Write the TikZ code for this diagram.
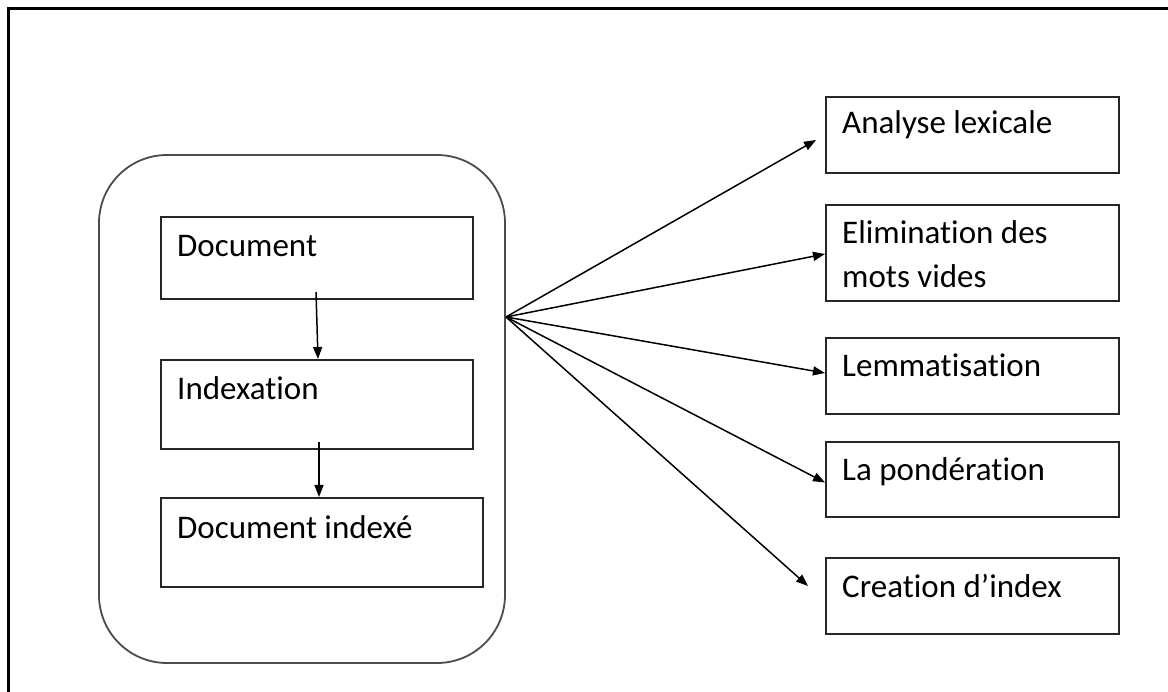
\documentclass[tikz,border=0pt]{standalone}
\usepackage{fontspec}
\setmainfont[Ligatures=NoCommon]{Carlito}
\usetikzlibrary{arrows.meta,calc}
\begin{document}
\begin{tikzpicture}[x=1pt,y=-1pt,
  box/.style={draw=black!85,line width=2pt,anchor=north west,inner sep=0pt},
  lbl/.style={anchor=base west,inner sep=0pt,font=\fontsize{33}{44}\selectfont,align=left},
  conn/.style={line width=1.5pt,-{Triangle[length=12pt,width=9pt]}},
  grpbox/.style={draw=black!70,line width=1.8pt,rounded corners=68pt}]
\useasboundingbox (0,0) rectangle (1168,692);
\fill[white] (0,0) rectangle (1168,692);
% outer frame (right and bottom edges lie outside the picture)
\draw[line width=3pt] (8,692) -- (8,9) -- (1168,9);
% group
\draw[grpbox] (99,155) rectangle (505,663);
\coordinate (fan) at (506,317);
% left boxes
\node[box,minimum width=312pt,minimum height=82pt] (doc) at (160,216) {};
\node[lbl] (tdoc) at (177,257) {Document};
\node[box,minimum width=312pt,minimum height=89pt] (idx) at (160,359) {};
\node[lbl] (tidx) at (177,400) {Indexation};
\node[box,minimum width=322pt,minimum height=89pt] (didx) at (160,497) {};
\node[lbl] (tdidx) at (177,538) {Document indexé};
% right boxes
\node[box,minimum width=293pt,minimum height=76pt] (ana) at (825,96) {};
\node[lbl] (tana) at (842,134) {Analyse lexicale};
\node[box,minimum width=293pt,minimum height=96pt] (eli) at (825,204) {};
\node[lbl] (teli) at (842,288) {Elimination des\\mots vides};
\node[box,minimum width=293pt,minimum height=76pt] (lem) at (825,337) {};
\node[lbl] (tlem) at (842,377) {Lemmatisation};
\node[box,minimum width=293pt,minimum height=75pt] (pon) at (825,441) {};
\node[lbl] (tpon) at (842,481) {La pondération};
\node[box,minimum width=293pt,minimum height=76pt] (cre) at (825,557) {};
\node[lbl] (tcre) at (842,597) {Creation d’index};
% vertical arrows
\draw[conn] ($(doc.south west)+(156,-8)$) -- ($(idx.north west)+(158,0)$);
\draw[conn] ($(idx.south west)+(159,-8)$) -- ($(didx.north west)+(159,0)$);
% fan arrows
\draw[conn] (fan) -- ($(ana.west)+(-9,5)$);
\draw[conn] (fan) -- ($(eli.west)+(0,1)$);
\draw[conn] (fan) -- ($(lem.west)+(0,-3)$);
\draw[conn] (fan) -- ($(pon.west)+(0,3)$);
\draw[conn] (fan) -- ($(cre.west)+(-17,-10)$);
\end{tikzpicture}
\end{document}
